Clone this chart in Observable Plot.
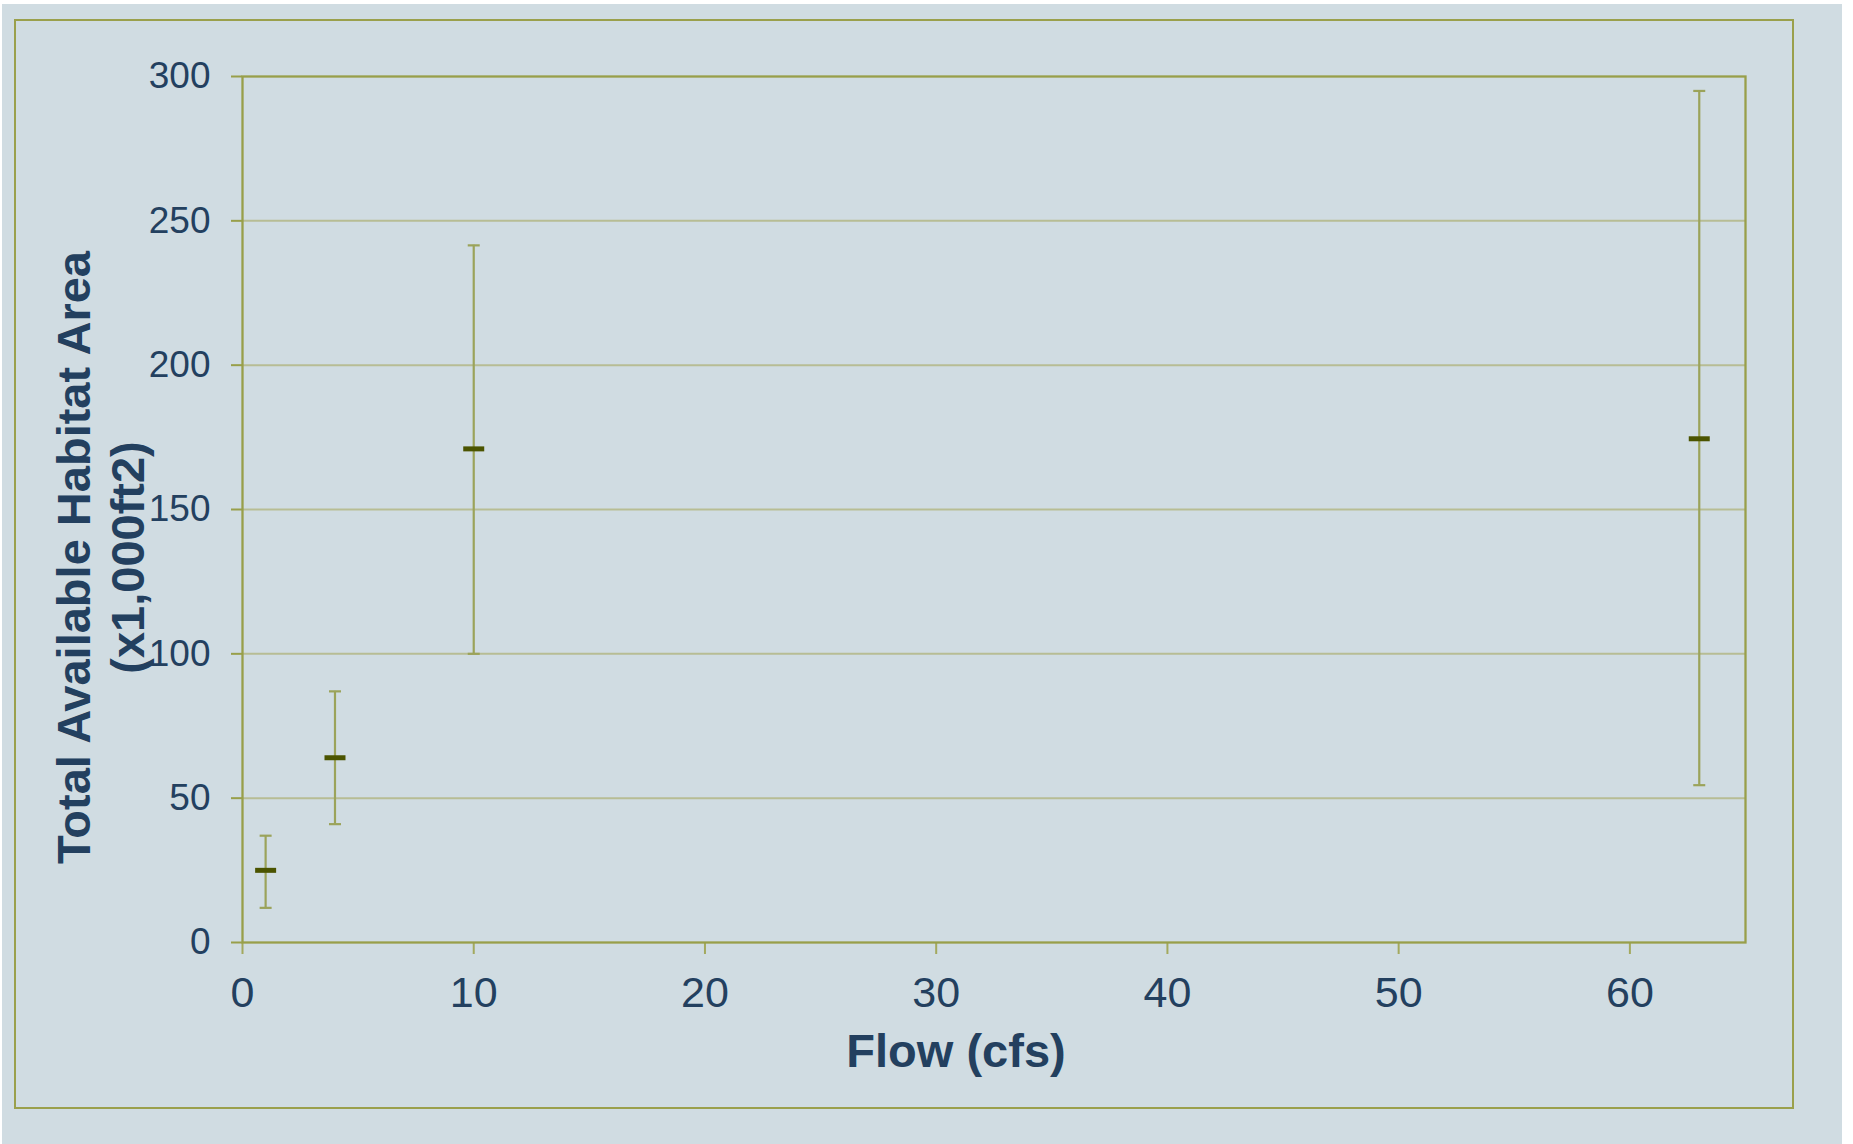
<!DOCTYPE html>
<html><head><meta charset="utf-8">
<script src="https://cdn.jsdelivr.net/npm/d3@7"></script>
<script src="https://cdn.jsdelivr.net/npm/@observablehq/plot@0.6"></script>
<style>
html,body{margin:0;padding:0;background:#fff;}
#wrap{position:relative;width:1853px;height:1144px;overflow:hidden;}
#bg{position:absolute;left:2px;top:4px;width:1840px;height:1140px;background:#d0dce2;}
#border{position:absolute;left:14px;top:19px;width:1776px;height:1086px;border:2px solid #9aa04c;}
#chart{position:absolute;left:0;top:0;}
</style></head><body>
<div id="wrap"><div id="bg"></div><div id="border"></div><div id="chart"></div></div>
<script>
const flow = [1, 4, 10, 63];
const meanArea = [25, 64, 171, 174.5];
const upperArea = [37, 87, 241.5, 295];
const lowerArea = [12, 41, 100, 54.5];
const xTicks = [0, 10, 20, 30, 40, 50, 60];
const yTicks = [0, 50, 100, 150, 200, 250, 300];
const gridTicks = [50, 100, 150, 200, 250];
const xTitle = "Flow (cfs)";
const yTitle = "Total Available Habitat Area\n(x1,000ft2)";

const data = flow.map((f, i) => ({flow: f, mean: meanArea[i], upper: upperArea[i], lower: lowerArea[i]}));

const textColor = "#23405f";
const olive = "#989f4a";
const barColor = "#9ba35a";

const capSymbol = {draw(ctx) { ctx.moveTo(-6, 0); ctx.lineTo(6, 0); }};
const dashSymbol = {draw(ctx) {
  ctx.moveTo(-10.5, -2.5); ctx.lineTo(10.5, -2.5); ctx.lineTo(10.5, 2.5); ctx.lineTo(-10.5, 2.5); ctx.closePath();
}};

const chart = Plot.plot({
  width: 1853,
  height: 1144,
  marginLeft: 242,
  marginTop: 76,
  marginRight: 108,
  marginBottom: 202,
  x: {domain: [0, 65]},
  y: {domain: [0, 300]},
  style: {background: "transparent", fontFamily: "'Liberation Sans', Arial, sans-serif", color: textColor, overflow: "visible"},
  marks: [
    Plot.gridY(gridTicks, {stroke: "#b7bd94", strokeOpacity: 1, strokeWidth: 2}),
    Plot.axisY(yTicks, {tickSize: 11, tickPadding: 21, fontSize: 37, stroke: olive, strokeWidth: 2, fill: textColor, label: null}),
    Plot.axisX(xTicks, {tickSize: 12, tickPadding: 22, fontSize: 43, stroke: "#a3a95e", strokeWidth: 2, fill: textColor, label: null}),
    Plot.ruleX(data, {x: "flow", y1: "lower", y2: "upper", stroke: barColor, strokeWidth: 2.2}),
    Plot.dot(data, {x: "flow", y: "upper", symbol: capSymbol, stroke: barColor, strokeWidth: 2.2, fill: "none"}),
    Plot.dot(data, {x: "flow", y: "lower", symbol: capSymbol, stroke: barColor, strokeWidth: 2.2, fill: "none"}),
    Plot.frame({stroke: olive, strokeWidth: 2.3}),
    Plot.dot(data, {x: "flow", y: "mean", symbol: dashSymbol, fill: "#4b5400", stroke: "none"}),
    Plot.text([xTitle], {frameAnchor: "bottom", text: d => d, dx: -38, dy: 91, lineAnchor: "top", fontSize: 47, fontWeight: "bold", fill: textColor}),
    Plot.text([yTitle], {frameAnchor: "left", text: d => d, rotate: -90, textAnchor: "middle", dx: -143, dy: 48, lineAnchor: "middle", lineHeight: 1.15, fontSize: 47, fontWeight: "bold", fill: textColor})
  ]
});
document.getElementById("chart").appendChild(chart);
</script>
</body></html>
